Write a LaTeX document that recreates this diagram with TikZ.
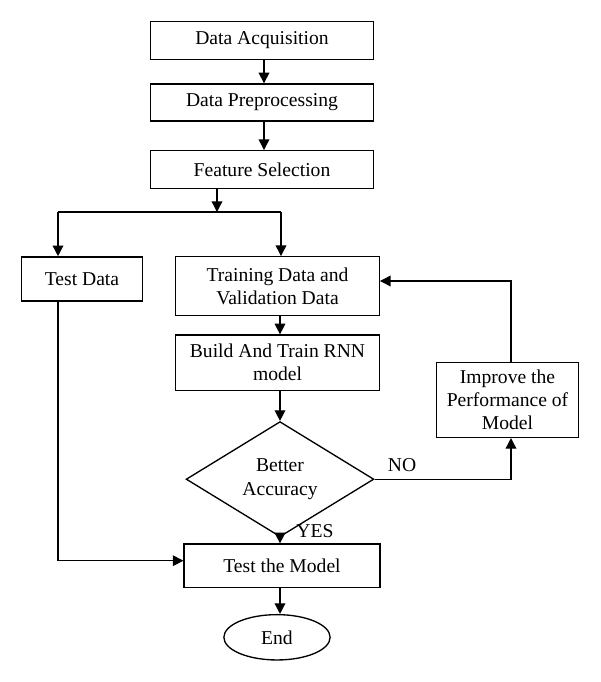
\documentclass[tikz,border=0pt]{standalone}
\usepackage{fontspec}
\setmainfont{Liberation Serif}
\usetikzlibrary{arrows.meta,shapes.geometric}
\begin{document}
\begin{tikzpicture}[x=0.75pt,y=-0.75pt,
  every node/.style={font=\fontsize{14.7}{17.3}\selectfont, align=center, inner sep=0pt},
  box/.style={draw, line width=1pt, rectangle},
  dec/.style={draw, line width=1pt, diamond},
  term/.style={draw, line width=1pt, ellipse},
  conn/.style={line width=1pt, -{Triangle[width=8pt,length=8pt]}},
  plain/.style={line width=1pt},
  lbl/.style={font=\fontsize{14.7}{17.3}\selectfont}
]
\useasboundingbox (0,0) rectangle (600,682);
\node[box, minimum width=167.25pt, minimum height=28.5pt] (acq) at (262,40.5) {Data Acquisition};
\node[box, minimum width=167.25pt, minimum height=27.75pt] (pre) at (262,102.5) {Data Preprocessing};
\node[box, minimum width=167.25pt, minimum height=28.2pt] (fs) at (262,169.5) {Feature Selection};
\node[box, minimum width=90.75pt, minimum height=33.2pt] (testd) at (82,279) {Test Data};
\node[box, minimum width=152.7pt, minimum height=44.25pt] (train) at (277.5,286.2) {Training Data and\\Validation Data};
\node[box, minimum width=153.3pt, minimum height=41.5pt] (build) at (277.5,362.7) {Build And Train RNN\\model};
\node[dec, minimum width=140.8pt, minimum height=78.75pt] (dia) at (280,479.2) {Better\\Accuracy};
\node[box, minimum width=106.2pt, minimum height=56pt] (imp) at (507.5,400) {Improve the\\Performance of\\Model};
\node[box, minimum width=146.8pt, minimum height=32.5pt] (testm) at (282,565.7) {Test the Model};
\node[term, minimum width=79.7pt, minimum height=34pt] (end) at (277,637.3) {End};

\coordinate (col) at (280,0);
\coordinate (split) at (217,212);
\coordinate (splitL) at (58,212);
\coordinate (splitR) at (281,212);
\coordinate (tdcorner) at (58,560.7);
\coordinate (fbtop) at (511,281);
\coordinate (nocorner) at (511,479.2);

\draw[conn] (acq.south -| 264,0) -- (pre.north -| 264,0);
\draw[conn] (pre.south -| 264,0) -- (fs.north -| 264,0);
\draw[conn] (fs.south -| split) -- (split);
\draw[plain] (splitL) -- (splitR);
\draw[conn] (splitL) -- (testd.north -| splitL);
\draw[conn] (splitR) -- (train.north -| splitR);
\draw[conn] (train.south -| col) -- (build.north -| col);
\draw[conn] (build.south -| col) -- (dia.north);
\draw[conn] (dia.south) -- (testm.north -| dia.south);
\draw[conn] (testd.south -| tdcorner) -- (tdcorner) -- (testm.west |- tdcorner);
\draw[conn] (dia.east) -- (nocorner) -- (imp.south -| nocorner);
\draw[conn] (imp.north -| fbtop) -- (fbtop) -- (train.east |- fbtop);
\draw[conn] (testm.south -| col) -- (end.north -| col);
\node[lbl] (no) at (402,465.5) {NO};
\node[lbl] (yes) at (315,531) {YES};
\end{tikzpicture}
\end{document}
